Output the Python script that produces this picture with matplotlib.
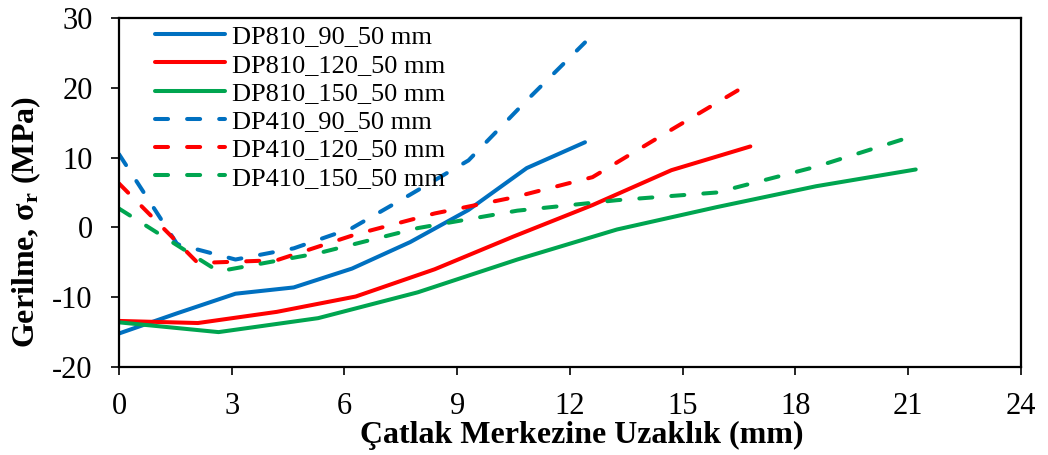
import matplotlib
matplotlib.use("Agg")
import matplotlib.pyplot as plt

plt.rcParams['font.family'] = ['Liberation Serif', 'DejaVu Serif']
plt.rcParams['mathtext.fontset'] = 'custom'
plt.rcParams['mathtext.rm'] = 'Liberation Serif'
plt.rcParams['mathtext.bf'] = 'Liberation Serif:bold'
plt.rcParams['mathtext.it'] = 'Liberation Serif:italic'
plt.rcParams['lines.scale_dashes'] = False
plt.rcParams['axes.unicode_minus'] = False

# Distance from crack centre (mm) for each bore size
x_90 = [0, 1.55, 3.1, 4.65, 6.2, 7.75, 9.3, 10.85, 12.4]
x_120 = [0, 2.1, 4.2, 6.3, 8.4, 10.5, 12.6, 14.7, 16.8]
x_150 = [0, 2.65, 5.3, 7.95, 10.6, 13.25, 15.9, 18.55, 21.2]

# Radial stress (MPa)
dp810_90 = [-15.2, -12.3, -9.5, -8.6, -5.9, -2.1, 2.5, 8.5, 12.2]
dp810_120 = [-13.4, -13.7, -12.1, -9.9, -6.0, -1.3, 3.2, 8.2, 11.6]
dp810_150 = [-13.6, -15.0, -13.0, -9.3, -4.6, -0.3, 2.9, 5.9, 8.3]
dp410_90 = [10.5, -2.4, -4.6, -3.0, -0.1, 4.7, 9.6, 18.2, 26.5]
dp410_120 = [6.3, -5.1, -4.7, -1.0, 2.0, 4.3, 7.2, 14.0, 20.7]
dp410_150 = [2.7, -6.3, -3.7, -0.1, 2.4, 3.9, 5.0, 8.7, 13.2]

labels = ["DP810_90_50 mm", "DP810_120_50 mm", "DP810_150_50 mm",
          "DP410_90_50 mm", "DP410_120_50 mm", "DP410_150_50 mm"]

BLUE = "#0070C0"
RED = "#FF0000"
GREEN = "#00A550"

fig = plt.figure(figsize=(10.48, 4.55), dpi=100)
ax = fig.add_axes([0.1135, 0.1934, 0.8607, 0.7670])

lw = 2.9
dash = (0, (9.4, 13.7))
common = dict(linewidth=lw, solid_capstyle='round', dash_capstyle='round',
              solid_joinstyle='round', dash_joinstyle='round')

ax.plot(x_90, dp810_90, color=BLUE, label=labels[0], **common)
ax.plot(x_120, dp810_120, color=RED, label=labels[1], **common)
ax.plot(x_150, dp810_150, color=GREEN, label=labels[2], **common)
ax.plot(x_90, dp410_90, color=BLUE, linestyle=dash, label=labels[3], **common)
ax.plot(x_120, dp410_120, color=RED, linestyle=dash, label=labels[4], **common)
ax.plot(x_150, dp410_150, color=GREEN, linestyle=dash, label=labels[5], **common)

ax.set_xlim(0, 24)
ax.set_ylim(-20, 30)
ax.set_xticks(range(0, 25, 3))
ax.set_yticks(range(-20, 31, 10))

for sp in ax.spines.values():
    sp.set_linewidth(1.6)
    sp.set_color('black')

ax.tick_params(axis='both', direction='out', length=5.8, width=1.2,
               labelsize=22, colors='black')
ax.tick_params(axis='y', pad=13)
ax.tick_params(axis='x', pad=12)

ax.set_xlabel("Çatlak Merkezine Uzaklık (mm)", fontsize=23, fontweight='bold')
ax.xaxis.set_label_coords(0.513, -0.155)
ax.set_ylabel(r"Gerilme, $\mathbf{\sigma_r}$ (MPa)", fontsize=23, fontweight='bold')
ax.yaxis.set_label_coords(-0.084, 0.415)

leg = ax.legend(loc='upper left', bbox_to_anchor=(0.04, 0.98), frameon=False,
                fontsize=19, borderpad=0, borderaxespad=0, labelspacing=0.18,
                handlelength=2.65, handletextpad=0.27)

fig.savefig("out.png", dpi=100)
